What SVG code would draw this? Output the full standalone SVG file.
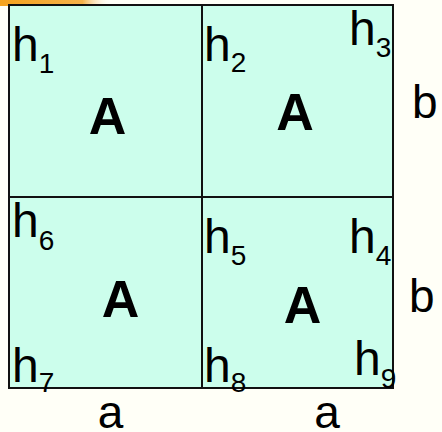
<svg xmlns="http://www.w3.org/2000/svg" width="442" height="432" viewBox="0 0 442 432">
<style>
.cell{fill:#ccfeec;stroke:#111;stroke-width:2}
.h{font-family:"Liberation Sans",Arial,sans-serif;font-size:48px;fill:#000}
.s{font-size:28px}
.big{font-family:"Liberation Sans",Arial,sans-serif;font-size:52px;font-weight:bold;fill:#000;text-anchor:middle}
.lbl{font-family:"Liberation Sans",Arial,sans-serif;font-size:46px;fill:#000}
</style>
<defs>
<linearGradient id="og" x1="0" y1="0" x2="1" y2="0">
<stop offset="0" stop-color="#f4a21e"/>
<stop offset="0.75" stop-color="#f6b24a"/>
<stop offset="1" stop-color="#fff8e8" stop-opacity="0"/>
</linearGradient>
</defs>
<rect width="442" height="432" fill="#fffff7"/>
<rect x="0" y="0" width="110" height="6" fill="url(#og)"/>
<g id="cell-tl"><rect class="cell" x="9" y="5" width="193" height="192"/><text class="big" x="107.5" y="134">A</text></g>
<g id="cell-tr"><rect class="cell" x="202" y="5" width="191" height="192"/><text class="big" x="295" y="130">A</text></g>
<g id="cell-bl"><rect class="cell" x="9" y="197" width="193" height="191"/><text class="big" x="120.5" y="317">A</text></g>
<g id="cell-br"><rect class="cell" x="202" y="197" width="191" height="191"/><text class="big" x="302.5" y="323">A</text></g>
<g id="labels">
<text class="h" x="12" y="61">h<tspan class="s" y="73">1</tspan></text>
<text class="h" x="204" y="61">h<tspan class="s" y="72">2</tspan></text>
<text class="h" x="349" y="45">h<tspan class="s" y="57">3</tspan></text>
<text class="h" x="349" y="253">h<tspan class="s" y="265">4</tspan></text>
<text class="h" x="204" y="253">h<tspan class="s" y="265">5</tspan></text>
<text class="h" x="12" y="237">h<tspan class="s" y="250">6</tspan></text>
<text class="h" x="12" y="382">h<tspan class="s" y="392">7</tspan></text>
<text class="h" x="204" y="382">h<tspan class="s" y="392">8</tspan></text>
<text class="h" x="354" y="375">h<tspan class="s" y="388">9</tspan></text>
<text class="lbl" x="412" y="118">b</text>
<text class="lbl" x="409" y="312">b</text>
<text class="lbl" x="110.5" y="428" text-anchor="middle">a</text>
<text class="lbl" x="327" y="428" text-anchor="middle">a</text>
</g>
</svg>
